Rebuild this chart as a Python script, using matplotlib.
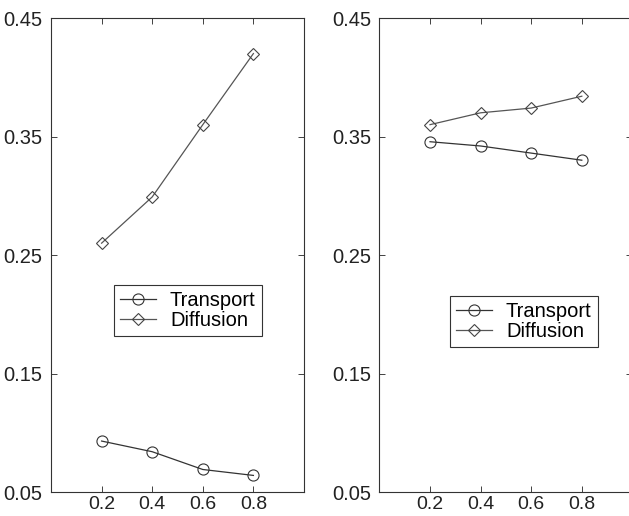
import matplotlib.pyplot as plt

x = [0.2, 0.4, 0.6, 0.8]

# left panel
left_transport = [0.093, 0.084, 0.069, 0.064]
left_diffusion = [0.260, 0.299, 0.360, 0.420]

# right panel
right_transport = [0.3456, 0.342, 0.336, 0.330]
right_diffusion = [0.360, 0.370, 0.374, 0.384]

yticks = [0.05, 0.15, 0.25, 0.35, 0.45]
xticks = [0.2, 0.4, 0.6, 0.8]

plt.rcParams['font.family'] = ['Liberation Sans', 'DejaVu Sans']

fig = plt.figure(figsize=(6.29, 5.16), dpi=100)
ax1 = fig.add_axes([0.0811, 0.0465, 0.4022, 0.9186])
ax2 = fig.add_axes([0.6032, 0.0465, 0.4022, 0.9186])

panels = [
    (ax1, left_transport, left_diffusion, (0.54, 0.383)),
    (ax2, right_transport, right_diffusion, (0.57, 0.36)),
]

for ax, tr, di, anchor in panels:
    ax.plot(x, tr, color="#333333", lw=0.9, marker="o", ms=8,
            mfc="none", mec="#333333", mew=0.8, label="Transport")
    ax.plot(x, di, color="#555555", lw=0.9, marker="D", ms=6.5,
            mfc="none", mec="#444444", mew=0.8, label="Diffusion")
    ax.set_xlim(0, 1)
    ax.set_ylim(0.05, 0.45)
    ax.set_xticks(xticks)
    ax.set_yticks(yticks)
    ax.set_xticklabels(["0.2", "0.4", "0.6", "0.8"])
    ax.set_yticklabels(["0.05", "0.15", "0.25", "0.35", "0.45"])
    ax.tick_params(direction="in", top=True, right=True, length=4,
                   width=0.6, labelsize=14.5, colors="#222222")
    ax.tick_params(axis="y", pad=6)
    ax.tick_params(axis="x", pad=3, labelsize=14)
    for s in ax.spines.values():
        s.set_linewidth(0.8)
        s.set_color("#333333")
    leg = ax.legend(loc="center", bbox_to_anchor=anchor, fontsize=14.5,
                    numpoints=1, handlelength=1.8, fancybox=False,
                    framealpha=1, edgecolor="#333333", borderpad=0.3,
                    labelspacing=0.05, handletextpad=0.7, borderaxespad=0)
    leg.get_frame().set_linewidth(0.8)

fig.savefig("out.png", dpi=100)
